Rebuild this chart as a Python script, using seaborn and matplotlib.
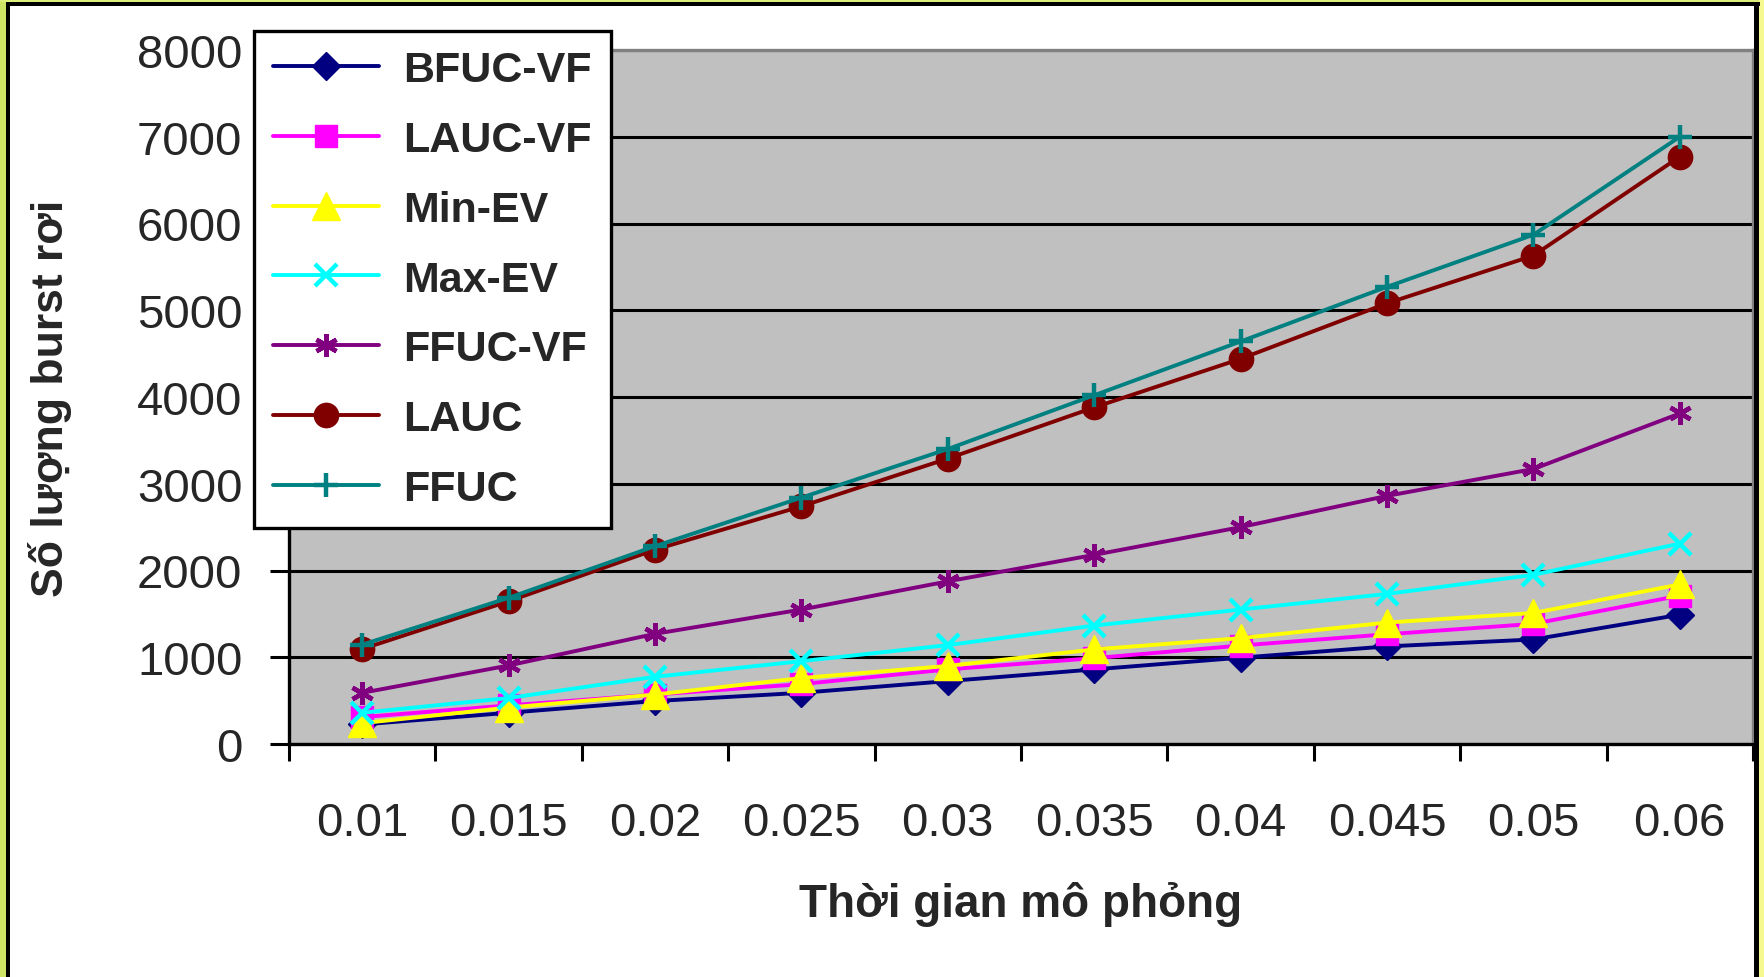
import matplotlib
matplotlib.use("Agg")
import matplotlib.pyplot as plt
from matplotlib.patches import Rectangle
import numpy as np
import seaborn as sns

sns.set_style("white")
plt.rcParams["font.family"] = ["Liberation Sans", "DejaVu Sans"]

# Simulation time categories
time_labels = ["0.01", "0.015", "0.02", "0.025", "0.03",
               "0.035", "0.04", "0.045", "0.05", "0.06"]

# Dropped bursts per scheduling algorithm
bfuc_vf = [225, 360, 495, 590, 725, 860, 995, 1125, 1205, 1490]
lauc_vf = [310, 445, 570, 690, 860, 990, 1135, 1265, 1385, 1710]
min_ev = [240, 420, 570, 760, 900, 1090, 1220, 1400, 1510, 1840]
max_ev = [360, 530, 775, 955, 1140, 1365, 1550, 1730, 1950, 2310]
ffuc_vf = [590, 905, 1270, 1550, 1875, 2180, 2500, 2860, 3170, 3810]
lauc = [1095, 1645, 2240, 2740, 3290, 3880, 4440, 5080, 5630, 6770]
ffuc = [1145, 1685, 2280, 2840, 3400, 4020, 4640, 5270, 5870, 7000]

series_names = ["BFUC-VF", "LAUC-VF", "Min-EV", "Max-EV", "FFUC-VF", "LAUC", "FFUC"]
series_values = [bfuc_vf, lauc_vf, min_ev, max_ev, ffuc_vf, lauc, ffuc]

# colour, marker, marker size (pt), marker edge width
styles = {
    "BFUC-VF": ("#000080", "D", 14.0, 1.0),
    "LAUC-VF": ("#FF00FF", "s", 16.0, 1.0),
    "Min-EV": ("#FFFF00", "^", 20.0, 1.0),
    "Max-EV": ("#00FFFF", "x", 15.5, 3.2),
    "FFUC-VF": ("#800080", (6, 2, 0), 16.5, 3.2),
    "LAUC": ("#800000", "o", 17.5, 1.0),
    "FFUC": ("#008080", "+", 17.5, 3.2),
}

W, H = 1765, 978
fig = plt.figure(figsize=(W / 100, H / 100), dpi=100)
fig.patch.set_facecolor("white")


def frame_box(x0, y0, w, h, color):
    fig.patches.append(Rectangle((x0 / W, 1 - (y0 + h) / H), w / W, h / H,
                                 transform=fig.transFigure, facecolor=color,
                                 edgecolor="none", zorder=0))


# outer decorative border and black frame
frame_box(0, 0, 7, H, "#CDE464")
frame_box(0, 0, W, 3, "#DDEE7A")
frame_box(1759, 0, 6, H, "#F6F990")
frame_box(6, 3, 4, H, "black")
frame_box(6, 3, 1754, 4, "black")
frame_box(1754, 3, 5, H, "black")

ax = fig.add_axes([289 / W, 1 - 745 / H, (1753 - 289) / W, (745 - 51) / H])
ax.set_facecolor("#C0C0C0")

pos = np.arange(len(time_labels))
handles = []
for name, vals in zip(series_names, series_values):
    color, marker, ms, mew = styles[name]
    sns.lineplot(x=pos, y=vals, ax=ax, color=color, linewidth=2.8,
                 marker=marker, markersize=ms, markerfacecolor=color,
                 markeredgecolor=color, markeredgewidth=mew, legend=False)
    line = ax.lines[-1]
    line.set_label(name)
    handles.append(line)

ax.set_xlim(-0.5, len(time_labels) - 0.5)
ax.set_ylim(0, 8000)

# category boundaries carry the tick marks, centres carry the labels
ax.set_xticks(np.arange(-0.5, len(time_labels), 1.0),
              labels=[""] * (len(time_labels) + 1))
ax.set_xticks(pos, labels=time_labels, minor=True)
ax.tick_params(axis="x", which="major", bottom=True, length=12.5, width=2.2,
               direction="out", color="black")
ax.tick_params(axis="x", which="minor", bottom=True, length=0, pad=41,
               labelsize=34)
ax.set_yticks(np.arange(0, 8001, 1000))
ax.tick_params(axis="y", left=True, length=13.5, width=2.2, direction="out",
               color="black", pad=20, labelsize=34)

ax.set_axisbelow(True)
ax.grid(axis="y", color="black", linewidth=2.2)
ax.grid(axis="x", visible=False)

for side in ("left", "bottom"):
    ax.spines[side].set_color("black")
    ax.spines[side].set_linewidth(2.4)
for side in ("top", "right"):
    ax.spines[side].set_color("#808080")
    ax.spines[side].set_linewidth(2.4)

ax.set_xlabel("Thời gian mô phỏng", fontsize=33, fontweight="bold")
ax.xaxis.label.set_va("center")
ax.xaxis.set_label_coords(0.5, (745 - 905) / 694)
ax.set_ylabel("Số lượng burst rơi", fontsize=32, fontweight="bold")
ax.yaxis.label.set_va("center")
ax.yaxis.set_label_coords((50 - 289) / 1464, 0.5)

leg = ax.legend(handles=handles, labels=series_names, loc="upper left",
                bbox_to_anchor=(254 / W, 1 - 32 / H),
                bbox_transform=fig.transFigure, borderaxespad=0,
                frameon=True, fancybox=False, edgecolor="black",
                facecolor="white", framealpha=1,
                prop={"weight": "bold", "size": 31},
                labelspacing=0.69, borderpad=0.45, handlelength=2.46,
                handletextpad=0.55)
leg.get_frame().set_linewidth(2.4)

fig.savefig("out.png", dpi=100)
